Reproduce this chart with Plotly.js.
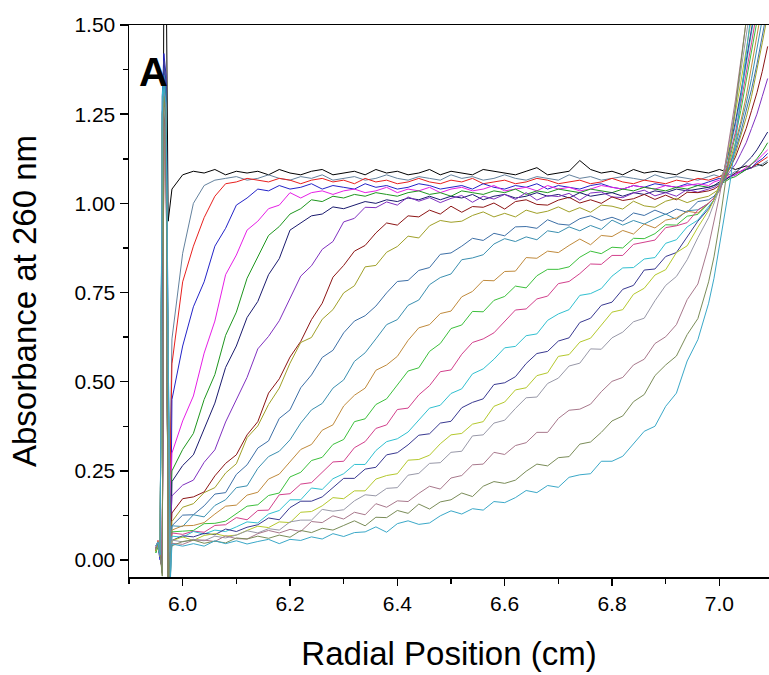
<!DOCTYPE html>
<html>
<head>
<meta charset="utf-8">
<script src="https://cdn.plot.ly/plotly-3.0.1.min.js"></script>
<style>html,body{margin:0;padding:0;background:#fff;}#chart{width:769px;height:675px;}</style>
</head>
<body>
<div id="chart"></div>
<script>
// Radial positions (cm): meniscus region followed by the scan grid
const radial = [5.950,5.954,5.958,5.962,5.965,5.969,5.973,5.977,
5.98,6.00,6.02,6.04,6.06,6.08,6.10,6.12,6.14,6.16,6.18,6.20,6.22,6.24,6.26,6.28,6.30,6.32,6.34,6.36,6.38,6.40,
6.42,6.44,6.46,6.48,6.50,6.52,6.54,6.56,6.58,6.60,6.62,6.64,6.66,6.68,6.70,6.72,6.74,6.76,6.78,6.80,
6.82,6.84,6.86,6.88,6.90,6.92,6.94,6.96,6.98,6.99,7.00,7.01,7.02,7.03,7.04,7.05,7.06,7.07,7.08,7.09];

// Absorbance at 260 nm for each scan
const scan01 = [0.03,0.05,0.02,-0.03,1.70,1.70,0.95,1.00,
1.04,1.08,1.09,1.085,1.095,1.08,1.09,1.085,1.09,1.08,1.095,1.085,1.08,1.09,1.095,1.08,1.085,1.09,1.08,1.095,1.085,1.09,1.08,1.085,1.095,1.08,1.09,1.085,1.08,1.095,1.09,1.085,1.08,1.09,1.10,1.08,1.085,1.09,1.12,1.095,1.085,1.09,1.08,1.095,1.085,1.09,1.085,1.08,1.095,1.09,1.085,1.09,1.095,1.09,1.10,1.095,1.10,1.105,1.10,1.11,1.105,1.115];
const scan02 = [0.035,0.045,0.015,1.15,1.30,1.26,-0.06,0.30,
0.62,0.86,1.00,1.05,1.065,1.07,1.075,1.065,1.07,1.08,1.07,1.065,1.075,1.07,1.08,1.065,1.07,1.075,1.065,1.07,1.08,1.07,1.065,1.075,1.07,1.065,1.08,1.07,1.075,1.065,1.07,1.08,1.07,1.065,1.075,1.07,1.065,1.08,1.07,1.075,1.065,1.07,1.075,1.07,1.065,1.08,1.07,1.075,1.07,1.065,1.075,1.08,1.075,1.085,1.08,1.09,1.085,1.095,1.10,1.105,1.11,1.12];
const scan03 = [0.025,0.05,0.02,-0.035,1.33,1.28,-0.07,0.25,
0.55,0.78,0.88,0.96,1.02,1.055,1.06,1.07,1.065,1.06,1.07,1.065,1.055,1.065,1.07,1.06,1.065,1.055,1.07,1.06,1.065,1.055,1.06,1.07,1.06,1.055,1.065,1.06,1.07,1.055,1.06,1.065,1.055,1.06,1.07,1.065,1.055,1.06,1.065,1.055,1.06,1.07,1.06,1.055,1.065,1.06,1.055,1.065,1.06,1.07,1.065,1.07,1.075,1.08,1.075,1.085,1.09,1.095,1.10,1.11,1.12,1.13];
const scan04 = [0.04,0.035,0.0,1.30,1.42,1.36,0.60,-0.05,
0.45,0.60,0.71,0.78,0.88,0.93,0.995,1.015,1.04,1.035,1.05,1.04,1.045,1.055,1.04,1.05,1.045,1.04,1.055,1.045,1.05,1.04,1.045,1.055,1.05,1.04,1.045,1.05,1.04,1.055,1.045,1.04,1.05,1.045,1.055,1.04,1.05,1.045,1.04,1.05,1.055,1.045,1.04,1.05,1.045,1.055,1.05,1.045,1.055,1.05,1.06,1.065,1.07,1.065,1.075,1.08,1.09,1.095,1.10,1.115,1.125,1.14];
const scan05 = [0.03,0.055,0.025,-0.03,1.30,1.24,-0.06,0.12,
0.30,0.39,0.46,0.58,0.67,0.80,0.855,0.925,0.95,0.985,0.995,1.03,1.015,1.03,1.035,1.025,1.035,1.04,1.03,1.035,1.045,1.03,1.04,1.035,1.045,1.03,1.04,1.045,1.035,1.04,1.05,1.035,1.04,1.045,1.035,1.05,1.04,1.045,1.035,1.04,1.05,1.045,1.04,1.05,1.045,1.04,1.05,1.045,1.05,1.055,1.05,1.06,1.065,1.07,1.075,1.08,1.09,1.10,1.11,1.12,1.135,1.15];
const scan06 = [0.02,0.04,0.01,1.20,1.35,1.30,-0.07,0.10,
0.25,0.31,0.355,0.45,0.52,0.63,0.695,0.79,0.85,0.91,0.935,0.97,0.985,1.01,1.005,1.02,1.015,1.025,1.02,1.03,1.025,1.02,1.03,1.035,1.025,1.03,1.02,1.035,1.03,1.025,1.035,1.03,1.04,1.025,1.035,1.03,1.04,1.035,1.03,1.04,1.035,1.03,1.04,1.035,1.045,1.04,1.035,1.045,1.04,1.05,1.045,1.05,1.055,1.06,1.07,1.075,1.085,1.095,1.11,1.125,1.145,1.17];
const scan07 = [0.035,0.05,0.02,-0.03,1.28,1.22,0.50,-0.04,
0.22,0.265,0.295,0.37,0.44,0.54,0.60,0.68,0.725,0.80,0.845,0.925,0.945,0.965,0.97,0.99,0.985,0.995,1.005,1.00,1.01,1.005,1.015,1.01,1.02,1.01,1.02,1.015,1.025,1.01,1.02,1.025,1.015,1.02,1.03,1.02,1.025,1.015,1.03,1.02,1.025,1.03,1.02,1.03,1.025,1.035,1.03,1.04,1.035,1.04,1.045,1.05,1.06,1.065,1.075,1.085,1.10,1.115,1.13,1.15,1.175,1.20];
const scan08 = [0.03,0.04,0.015,1.20,1.30,1.25,-0.07,0.06,
0.18,0.21,0.224,0.274,0.309,0.387,0.452,0.512,0.592,0.627,0.671,0.736,0.796,0.825,0.871,0.893,0.948,0.958,0.989,0.988,1.004,0.995,1.018,1.006,1.016,1.002,1.014,1.022,1.003,1.02,1.012,1.025,1.011,1.03,1.009,1.022,1.019,1.028,1.009,1.029,1.032,1.018,1.016,1.029,1.037,1.021,1.03,1.02,1.039,1.031,1.04,1.045,1.055,1.07,1.09,1.11,1.14,1.17,1.21,1.25,1.30,1.35];
const scan09 = [0.025,0.05,0.02,-0.035,1.25,1.20,-0.06,0.03,
0.132,0.172,0.177,0.191,0.236,0.271,0.295,0.351,0.388,0.468,0.508,0.569,0.613,0.674,0.72,0.793,0.826,0.866,0.882,0.917,0.945,0.939,0.965,0.962,0.981,0.97,0.992,0.975,0.991,0.989,1.001,0.984,1.005,1.01,0.997,0.995,1.009,1.017,1.001,1.01,1.00,1.018,1.008,1.013,1.025,1.011,1.023,1.01,1.031,1.03,1.035,1.04,1.05,1.075,1.10,1.13,1.17,1.21,1.26,1.31,1.37,1.44];
const scan10 = [0.04,0.045,0.01,1.20,1.30,1.26,0.55,-0.05,
0.108,0.148,0.158,0.189,0.203,0.244,0.27,0.343,0.376,0.436,0.482,0.552,0.61,0.624,0.675,0.702,0.749,0.769,0.822,0.826,0.863,0.879,0.908,0.903,0.937,0.952,0.947,0.95,0.966,0.976,0.962,0.972,0.962,0.981,0.972,0.978,0.99,0.976,0.988,0.975,0.995,0.992,0.984,1.006,0.993,0.989,1.006,1.014,1.002,1.013,1.02,1.03,1.04,1.07,1.10,1.14,1.19,1.24,1.30,1.37,1.45,1.53];
const scan11 = [0.03,0.05,0.02,-0.03,1.38,1.32,-0.08,0.02,
0.096,0.126,0.127,0.152,0.185,0.189,0.24,0.267,0.314,0.334,0.397,0.421,0.483,0.519,0.568,0.588,0.637,0.67,0.685,0.712,0.749,0.781,0.784,0.812,0.82,0.857,0.861,0.88,0.902,0.896,0.916,0.909,0.934,0.935,0.93,0.954,0.942,0.939,0.957,0.965,0.952,0.961,0.95,0.973,0.966,0.981,0.969,0.984,0.975,1.005,1.01,1.02,1.04,1.07,1.11,1.15,1.20,1.26,1.32,1.39,1.47,1.55];
const scan12 = [0.035,0.04,0.015,1.25,1.33,1.28,-0.06,0.02,
0.096,0.094,0.127,0.121,0.153,0.169,0.203,0.208,0.257,0.29,0.305,0.337,0.384,0.421,0.439,0.482,0.505,0.557,0.581,0.62,0.66,0.674,0.714,0.729,0.772,0.792,0.802,0.842,0.847,0.856,0.886,0.901,0.893,0.906,0.898,0.923,0.918,0.934,0.923,0.938,0.927,0.953,0.939,0.952,0.942,0.957,0.97,0.955,0.979,0.982,1.00,1.015,1.035,1.07,1.11,1.16,1.22,1.28,1.35,1.43,1.51,1.60];
const scan13 = [0.03,0.055,0.025,-0.035,1.28,1.23,0.50,-0.05,
0.084,0.096,0.097,0.105,0.129,0.151,0.154,0.182,0.19,0.227,0.241,0.275,0.31,0.324,0.364,0.379,0.432,0.462,0.482,0.532,0.547,0.571,0.616,0.651,0.66,0.691,0.698,0.738,0.753,0.784,0.783,0.809,0.81,0.848,0.846,0.866,0.862,0.882,0.90,0.884,0.91,0.907,0.924,0.914,0.942,0.931,0.953,0.959,0.978,0.973,1.00,1.015,1.035,1.075,1.12,1.17,1.23,1.30,1.38,1.46,1.55,1.64];
const scan14 = [0.02,0.045,0.01,1.25,1.35,1.30,-0.08,0.02,
0.079,0.081,0.083,0.102,0.103,0.109,0.131,0.151,0.155,0.181,0.188,0.233,0.246,0.279,0.288,0.324,0.338,0.388,0.396,0.436,0.452,0.492,0.53,0.539,0.585,0.607,0.649,0.659,0.697,0.696,0.728,0.739,0.768,0.763,0.797,0.815,0.815,0.822,0.849,0.866,0.859,0.877,0.875,0.902,0.901,0.915,0.94,0.939,0.964,0.969,1.00,1.015,1.04,1.08,1.13,1.19,1.26,1.34,1.42,1.51,1.60,1.70];
const scan15 = [0.035,0.05,0.02,-0.03,1.30,1.25,-0.06,0.02,
0.076,0.072,0.081,0.078,0.097,0.099,0.119,0.113,0.139,0.14,0.183,0.186,0.213,0.217,0.247,0.275,0.277,0.315,0.332,0.369,0.379,0.422,0.426,0.463,0.489,0.528,0.533,0.577,0.61,0.62,0.637,0.669,0.701,0.704,0.732,0.74,0.775,0.781,0.803,0.83,0.829,0.854,0.854,0.885,0.892,0.897,0.932,0.937,0.946,0.981,1.00,1.015,1.04,1.085,1.14,1.20,1.28,1.36,1.45,1.54,1.63,1.72];
const scan16 = [0.03,0.04,0.01,1.30,1.36,1.31,0.60,-0.05,
0.067,0.064,0.08,0.073,0.084,0.08,0.093,0.107,0.104,0.129,0.139,0.169,0.169,0.202,0.198,0.228,0.242,0.268,0.268,0.307,0.332,0.34,0.359,0.394,0.426,0.434,0.467,0.48,0.522,0.536,0.563,0.595,0.599,0.629,0.634,0.672,0.69,0.702,0.742,0.747,0.761,0.796,0.819,0.82,0.844,0.848,0.888,0.898,0.934,0.953,0.99,1.01,1.045,1.095,1.155,1.22,1.30,1.39,1.48,1.57,1.66,1.75];
const scan17 = [0.04,0.05,0.02,-0.035,1.40,1.34,-0.08,0.02,
0.055,0.068,0.065,0.075,0.071,0.087,0.08,0.092,0.099,0.118,0.113,0.147,0.165,0.165,0.177,0.204,0.229,0.229,0.255,0.26,0.295,0.301,0.323,0.35,0.354,0.384,0.389,0.427,0.442,0.452,0.492,0.497,0.514,0.551,0.579,0.585,0.614,0.623,0.666,0.678,0.714,0.723,0.759,0.77,0.813,0.816,0.851,0.862,0.907,0.95,0.985,1.01,1.05,1.10,1.16,1.23,1.31,1.40,1.49,1.58,1.67,1.76];
const scan18 = [0.025,0.045,0.015,1.20,1.30,1.26,-0.06,0.02,
0.054,0.065,0.055,0.069,0.074,0.067,0.07,0.083,0.095,0.091,0.107,0.105,0.134,0.136,0.152,0.175,0.172,0.194,0.194,0.227,0.237,0.242,0.28,0.282,0.294,0.326,0.351,0.355,0.381,0.388,0.431,0.443,0.477,0.483,0.517,0.525,0.571,0.576,0.611,0.622,0.66,0.695,0.702,0.745,0.762,0.799,0.814,0.862,0.881,0.933,0.98,1.01,1.05,1.10,1.17,1.25,1.34,1.43,1.52,1.61,1.70,1.79];
const scan19 = [0.03,0.05,0.02,-0.04,1.27,1.22,0.50,-0.05,
0.056,0.051,0.058,0.054,0.067,0.062,0.07,0.082,0.076,0.088,0.084,0.107,0.112,0.112,0.142,0.137,0.141,0.166,0.183,0.18,0.201,0.203,0.238,0.243,0.271,0.273,0.302,0.305,0.348,0.351,0.384,0.392,0.425,0.455,0.457,0.495,0.51,0.544,0.552,0.592,0.591,0.623,0.639,0.668,0.678,0.727,0.77,0.795,0.842,0.904,0.96,1.00,1.04,1.10,1.18,1.27,1.37,1.47,1.57,1.67,1.77,1.87];
const scan20 = [0.035,0.04,0.01,1.25,1.32,1.27,-0.08,0.02,
0.047,0.044,0.056,0.056,0.052,0.068,0.06,0.059,0.074,0.083,0.076,0.086,0.08,0.108,0.105,0.124,0.115,0.134,0.127,0.158,0.148,0.166,0.164,0.187,0.207,0.199,0.23,0.237,0.267,0.269,0.302,0.296,0.321,0.329,0.358,0.358,0.397,0.42,0.423,0.437,0.472,0.501,0.512,0.547,0.563,0.607,0.626,0.66,0.73,0.774,0.88,0.95,1.02,1.10,1.19,1.29,1.40,1.51,1.62,1.73,1.84,1.95];
const scan21 = [0.03,0.045,0.02,-0.045,1.30,1.24,-0.07,0.02,
0.04,0.052,0.056,0.047,0.053,0.048,0.062,0.059,0.067,0.061,0.07,0.064,0.083,0.077,0.089,0.084,0.097,0.11,0.096,0.12,0.119,0.139,0.131,0.157,0.143,0.163,0.169,0.188,0.178,0.207,0.22,0.215,0.224,0.249,0.269,0.264,0.287,0.29,0.325,0.331,0.358,0.39,0.404,0.444,0.464,0.517,0.547,0.572,0.632,0.677,0.78,0.85,0.94,1.04,1.15,1.27,1.40,1.52,1.64,1.76,1.88,2.00];
const scan22 = [0.04,0.05,0.015,1.25,1.33,1.28,0.55,-0.06,
0.045,0.039,0.046,0.039,0.054,0.046,0.054,0.045,0.052,0.058,0.046,0.058,0.055,0.065,0.059,0.074,0.066,0.077,0.079,0.093,0.078,0.102,0.11,0.10,0.104,0.124,0.138,0.129,0.144,0.14,0.164,0.161,0.175,0.195,0.189,0.209,0.204,0.232,0.239,0.242,0.277,0.277,0.291,0.326,0.361,0.375,0.431,0.468,0.558,0.618,0.72,0.79,0.88,0.97,1.06,1.17,1.30,1.42,1.55,1.68,1.80,1.92];

const scans = [scan01,scan02,scan03,scan04,scan05,scan06,scan07,scan08,scan09,scan10,scan11,
               scan12,scan13,scan14,scan15,scan16,scan17,scan18,scan19,scan20,scan21,scan22];

const lineColors = ['#000000','#64829e','#e8201e','#2323c8','#e61ee6','#1e961e','#1a1a6e','#8030c0',
  '#8c1414','#a0a028','#3d6fa6','#3a8fb0','#c08a3c','#3cc03c','#d2408c','#30c0d0','#383890',
  '#b4c82c','#9898a8','#a8788c','#7a8c58','#3aa8c8'];

const traces = scans.map((s, i) => ({
  x: radial, y: s, type: 'scatter', mode: 'lines',
  line: {color: lineColors[i], width: 1}, hoverinfo: 'skip', showlegend: false
}));

const fontFam = 'Liberation Sans, Arial, sans-serif';
const layout = {
  width: 769, height: 675,
  margin: {l: 129, r: 0, t: 25, b: 98},
  paper_bgcolor: '#ffffff', plot_bgcolor: '#ffffff',
  font: {family: fontFam, color: '#000'},
  xaxis: {
    range: [5.9, 7.0925], tick0: 6.0, dtick: 0.2, tickformat: '.1f',
    ticks: 'outside', ticklen: 7, tickwidth: 1.5, tickcolor: '#000',
    showline: true, linecolor: '#000', linewidth: 1.5, mirror: true,
    showgrid: false, zeroline: false,
    tickfont: {size: 21, family: fontFam, color: '#000'},
    minor: {dtick: 0.1, tick0: 5.9, ticks: 'outside', ticklen: 5, tickwidth: 1.5, tickcolor: '#000', showgrid: false},
    title: {text: 'Radial Position (cm)', font: {size: 33, family: fontFam, color: '#000'}, standoff: 28}
  },
  yaxis: {
    range: [-0.0475, 1.5], tick0: 0, dtick: 0.25, tickformat: '.2f',
    ticks: 'outside', ticklen: 8, tickwidth: 1.5, tickcolor: '#000',
    showline: true, linecolor: '#000', linewidth: 1.5, mirror: false,
    showgrid: false, zeroline: false,
    tickfont: {size: 21, family: fontFam, color: '#000'},
    minor: {dtick: 0.125, tick0: 0, ticks: 'outside', ticklen: 5, tickwidth: 1.5, tickcolor: '#000', showgrid: false},
    title: {text: 'Absorbance at 260 nm', font: {size: 33, family: fontFam, color: '#000'}, standoff: 28}
  },
  annotations: [{
    text: '<b>A</b>', xref: 'paper', yref: 'paper', x: 0.0125, y: 0.915,
    xanchor: 'left', yanchor: 'middle', showarrow: false,
    font: {size: 40, family: fontFam, color: '#000'}
  }]
};

Plotly.newPlot('chart', traces, layout, {displayModeBar: false, staticPlot: true});
</script>
</body>
</html>
